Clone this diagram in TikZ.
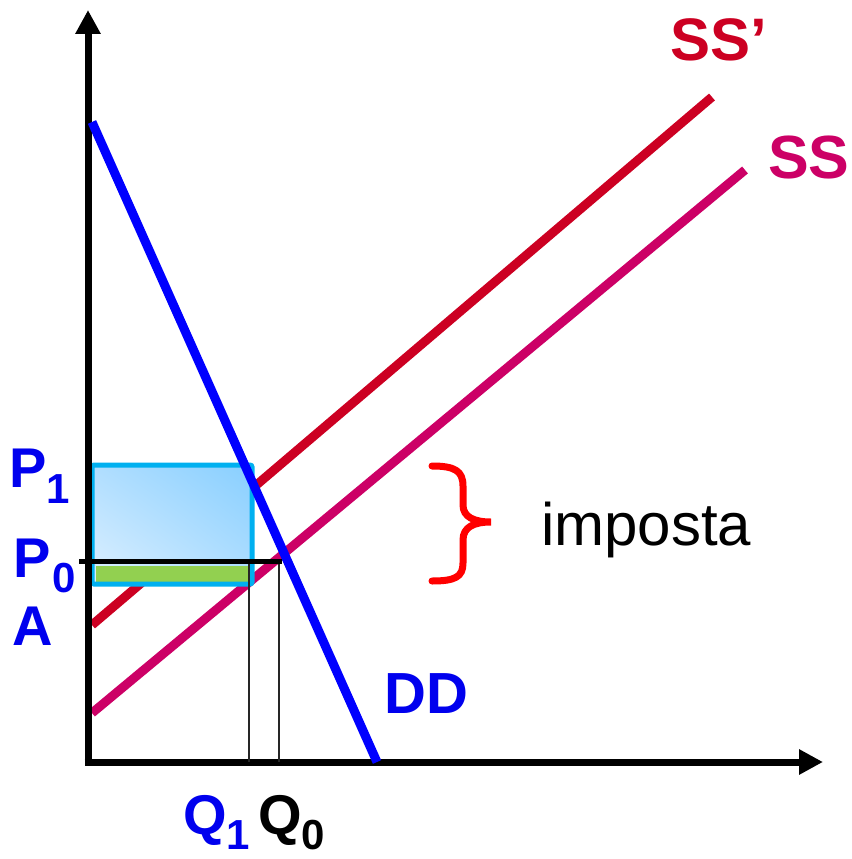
\documentclass[tikz,border=0pt]{standalone}
\usepackage{fontspec}
\setmainfont{Liberation Sans}
\usetikzlibrary{arrows.meta,shadings}
\definecolor{ddblue}{HTML}{0000FF}
\definecolor{txtblue}{HTML}{0000EE}
\definecolor{ssred}{HTML}{CC0022}
\definecolor{ssmag}{HTML}{CC0066}
\definecolor{bracered}{HTML}{FF0000}
\definecolor{rectborder}{HTML}{00B0F0}
\definecolor{greenfill}{HTML}{92D050}
\definecolor{shadeLL}{HTML}{DDF0FF}
\definecolor{shadeUR}{HTML}{88CFFF}
\definecolor{shadeMid}{HTML}{B0DEFF}
\tikzset{
  axis/.style={line width=7pt, -{Triangle[width=24pt,length=24pt]}},
  curve/.style={line width=9pt},
  guide/.style={line width=1.5pt, black!85},
  lbl/.style={inner sep=0pt, anchor=base west, font=\fontsize{56}{56}\selectfont\bfseries}
}
\newcommand{\lowsub}[2]{\raisebox{-#1}{\fontsize{42}{42}\selectfont\bfseries #2}}
\begin{document}
\begin{tikzpicture}[x=1pt,y=-1pt]
\useasboundingbox (0,0) rectangle (851,859);
% supply curves
\coordinate (ss1a) at (92,713); \coordinate (ss1b) at (745,170);
\coordinate (ss2a) at (92,625); \coordinate (ss2b) at (712,97);
\draw[curve, ssmag] (ss1a) -- (ss1b);
\draw[curve, ssred] (ss2a) -- (ss2b);
% surplus rectangle
\shade[shading=bilinear interpolation, lower left=shadeLL, upper right=shadeUR,
       upper left=shadeMid, lower right=shadeMid]
  (92,465) rectangle (252,583);
\fill[greenfill] (96,566) rectangle (250,582);
\draw[rectborder, line width=5pt, rounded corners=2pt] (92,465) rectangle (252,584);
% axes
\coordinate (O) at (88,762);
\coordinate (ytip) at (88,10);
\coordinate (xtip) at (823,762);
\draw[axis] (88,765.5) -- (ytip);
\draw[axis] (84.5,762) -- (xtip);
% demand
\coordinate (dda) at (92,122); \coordinate (ddb) at (377,762);
\draw[curve, ddblue] (dda) -- (ddb);
% guides
\coordinate (q1top) at (249,561); \coordinate (q1bot) at (249,762);
\coordinate (q0top) at (279,561); \coordinate (q0bot) at (279,762);
\draw[guide] (q1top) -- (q1bot);
\draw[guide] (q0top) -- (q0bot);
\coordinate (p0l) at (79,561); \coordinate (p0r) at (282,561);
\draw[line width=5pt] (p0l) -- (p0r);
% brace
\draw[bracered, line width=7pt, line cap=round]
  (432,466) .. controls (455,466) and (463,471) .. (463,486) -- (463,505)
  .. controls (463,517) and (474,522) .. (491,522)
  .. controls (474,522) and (463,527) .. (463,540) -- (463,563)
  .. controls (463,577) and (455,581) .. (432,581);
% labels
\node[lbl, txtblue] (P1) at (9,487) {P\lowsub{16pt}{1}};
\node[lbl, txtblue] (P0) at (13,577) {P\kern2pt\lowsub{15pt}{0}};
\node[lbl, txtblue] (A) at (12,645) {A};
\node[lbl, txtblue] (Q1) at (183,834) {Q\lowsub{15pt}{1}};
\node[lbl, black] (Q0) at (258,834) {Q\lowsub{15pt}{0}};
\node[lbl, txtblue, font=\fontsize{58}{58}\selectfont\bfseries] (DD) at (384,713) {DD};
\node[lbl, ssred, font=\fontsize{60}{60}\selectfont\bfseries] (SSp) at (670,60) {SS’};
\node[lbl, ssmag, font=\fontsize{61}{61}\selectfont\bfseries] (SS) at (768,178) {SS};
\node[lbl, black, font=\fontsize{60}{60}\selectfont] (imp) at (541,545) {imposta};
\end{tikzpicture}
\end{document}
